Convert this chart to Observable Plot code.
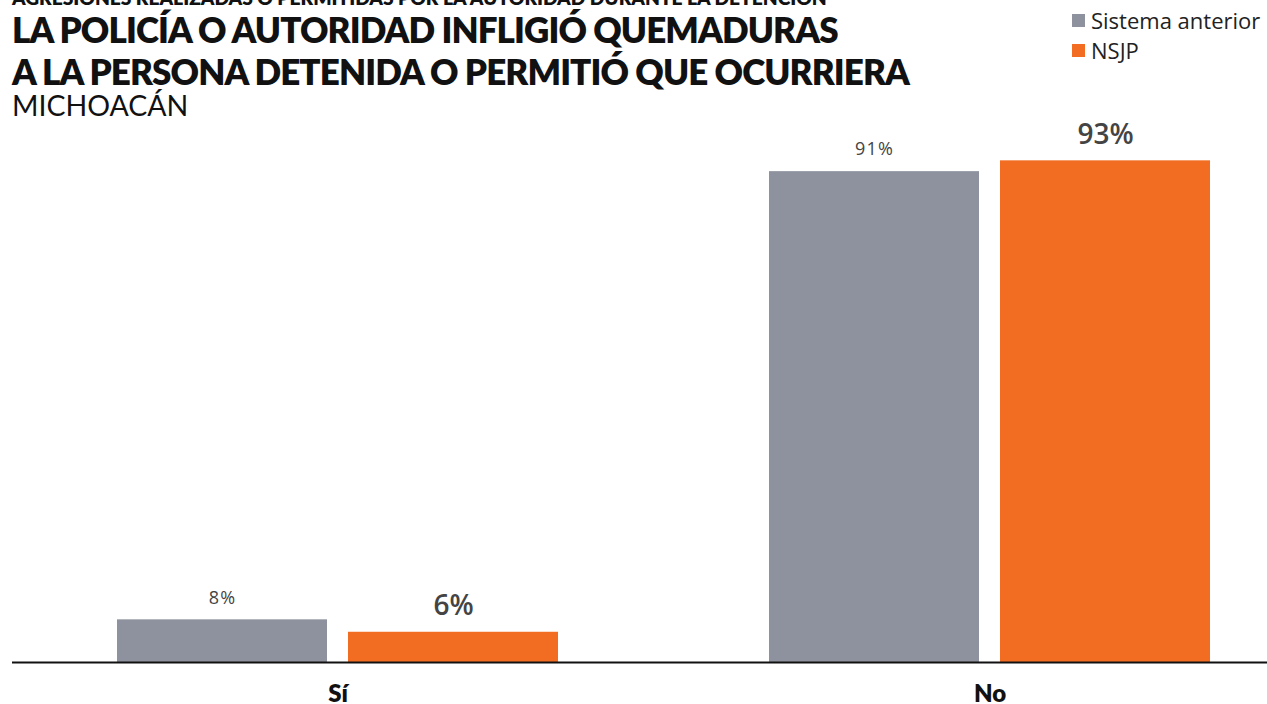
<!DOCTYPE html>
<html><head><meta charset="utf-8">
<script src="https://cdn.jsdelivr.net/npm/d3@7"></script>
<script src="https://cdn.jsdelivr.net/npm/@observablehq/plot@0.6"></script>
<style>
body{margin:0;background:#fff;width:1267px;height:704px;overflow:hidden;}
#header{position:relative;height:122px;font-family:Lato, sans-serif;color:#111;}
#header div{position:absolute;left:12px;white-space:nowrap;}
#kicker{top:-12px;font-size:19.2px;line-height:19px;font-weight:800;letter-spacing:0px;}
.t{font-size:35px;line-height:35px;font-weight:800;letter-spacing:-0.9px;}
#t1{top:12px;}
#t2{top:54px;}
#sub{top:91px;font-size:28.5px;line-height:28.5px;font-weight:400;}
#legend{position:absolute;left:1072px !important;top:5px;font-family:"Open Sans",sans-serif;font-size:22px;color:#222;}
#legend .row{position:relative;height:30px;display:flex;align-items:center;}
#legend .sw{width:13px;height:13px;margin-right:6px;display:inline-block;}
#chart{position:relative;}
</style></head><body>
<div id="header">
  <div id="kicker">AGRESIONES REALIZADAS O PERMITIDAS POR LA AUTORIDAD DURANTE LA DETENCIÓN</div>
  <div id="t1" class="t">LA POLICÍA O AUTORIDAD INFLIGIÓ QUEMADURAS</div>
  <div id="t2" class="t">A LA PERSONA DETENIDA O PERMITIÓ QUE OCURRIERA</div>
  <div id="sub">MICHOACÁN</div>
  <div id="legend"></div>
</div>
<div id="chart"></div>
<script>
const categories = ["Sí", "No"];
const seriesNames = ["Sistema anterior", "NSJP"];
const sistemaAnterior = [7.9, 90.9];
const nsjp = [5.6, 92.9];
const colors = ["#8e929e", "#f26c22"];

const data = categories.flatMap((c, i) => [
  {cat: c, series: seriesNames[0], value: sistemaAnterior[i]},
  {cat: c, series: seriesNames[1], value: nsjp[i]}
]);
const a = data.filter(d => d.series === seriesNames[0]);
const b = data.filter(d => d.series === seriesNames[1]);
const fmt = d => Math.round(d.value) + "%";

const legend = document.getElementById("legend");
seriesNames.forEach((s, i) => {
  const row = document.createElement("div");
  row.className = "row";
  row.style.position = "relative";
  row.style.left = "0";
  const sw = document.createElement("span");
  sw.className = "sw";
  sw.style.background = colors[i];
  row.appendChild(sw);
  row.appendChild(document.createTextNode(s));
  legend.appendChild(row);
});

const chart = Plot.plot({
  width: 1267, height: 582,
  marginTop: 0, marginBottom: 42, marginLeft: 12, marginRight: 0,
  style: {background: "transparent", overflow: "visible"},
  x: {domain: categories, paddingInner: 0.3236, paddingOuter: 0.124, align: 0.648, label: null},
  y: {domain: [0, 100], axis: null},
  color: {domain: seriesNames, range: colors},
  marks: [
    Plot.barY(a, {x: "cat", y: "value", fill: "series", insetRight: 231}),
    Plot.barY(b, {x: "cat", y: "value", fill: "series", insetLeft: 231}),
    Plot.text(a, {x: "cat", y: "value", text: fmt, dx: -115.5, dy: -22, fontSize: 18, fill: "#444", fontFamily: "Open Sans"}),
    Plot.text(b, {x: "cat", y: "value", text: fmt, dx: 115.5, dy: -26, fontSize: 28, fontWeight: 600, fill: "#444", fontFamily: "Open Sans"}),
    Plot.ruleY([0], {stroke: "#111", strokeWidth: 2}),
    Plot.axisX({tickSize: 0, tickPadding: 22, fontSize: 24, fontWeight: 800, fontFamily: "Lato", fill: "#111", label: null})
  ]
});
const textGroups = chart.querySelectorAll('g[aria-label="text"]');
if (textGroups.length) textGroups[0].setAttribute("letter-spacing", "1.2");
document.getElementById("chart").appendChild(chart);
</script>
</body></html>
